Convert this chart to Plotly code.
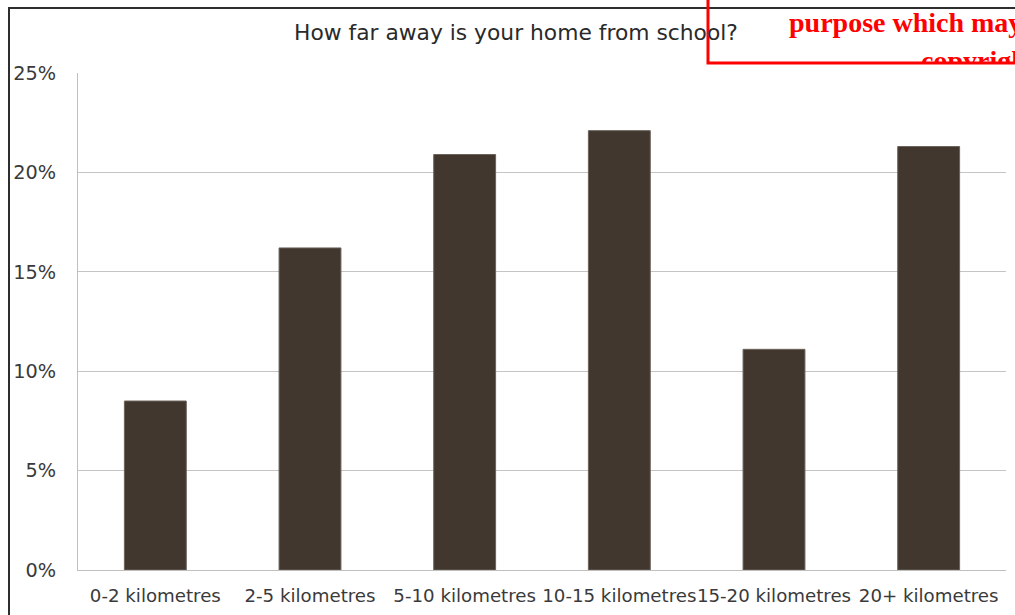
import plotly.graph_objects as go

categories = ["0-2 kilometres", "2-5 kilometres", "5-10 kilometres",
              "10-15 kilometres", "15-20 kilometres", "20+ kilometres"]
shares = [8.5, 16.2, 20.9, 22.1, 11.1, 21.3]
tick_vals = [0, 5, 10, 15, 20, 25]
tick_text = ["0%", "5%", "10%", "15%", "20%", "25%"]

W, H = 1015, 615
L, R, T, B = 78, 9, 73, 45
PW, PH = W - L - R, H - T - B

def px(x):
    return (x - L) / PW

def py(y):
    return (H - B - y) / PH

TXT = "#3a3a3a"
FONT = "DejaVu Sans, Open Sans, sans-serif"

fig = go.Figure(go.Bar(
    x=categories, y=shares,
    marker=dict(color="#41372e", line=dict(color="#6b625a", width=1)),
    width=0.4,
))

fig.update_layout(
    width=W, height=H,
    margin=dict(l=L, r=R, t=T, b=B, autoexpand=False),
    paper_bgcolor="white", plot_bgcolor="white",
    showlegend=False,
    font=dict(family=FONT, color=TXT, size=17),
    xaxis=dict(showgrid=False, showline=True, linecolor="#bfbfbf", linewidth=1,
               ticks="", tickangle=0, automargin=False, ticklabelstandoff=9,
               tickfont=dict(size=18.2, color=TXT)),
    yaxis=dict(range=[0, 25], tickvals=tick_vals, ticktext=tick_text,
               showgrid=True, gridcolor="#c4c4c4", gridwidth=1,
               showline=True, linecolor="#bfbfbf", linewidth=1, automargin=False,
               zeroline=False, ticks="", ticklen=0, ticklabelstandoff=17,
               tickfont=dict(size=19.3, color=TXT)),
    bargap=0.6,
)

fig.add_annotation(
    text="How far away is your home from school?",
    xref="paper", yref="paper", x=px(516), y=py(33),
    xanchor="center", yanchor="middle", showarrow=False,
    font=dict(size=21.8, color="#2a2a2a", family=FONT),
)

# outer chart frame
fig.add_shape(type="rect", xref="paper", yref="paper",
              x0=px(9), x1=px(1040), y0=py(640), y1=py(8),
              line=dict(color="#2e2e2e", width=2), layer="above")

# red overlay box
fig.add_shape(type="rect", xref="paper", yref="paper",
              x0=px(708), x1=px(1040), y0=py(63), y1=py(-10),
              line=dict(color="#ff0000", width=3), layer="above")

fig.add_annotation(
    text="<b>purpose which may</b>", xref="paper", yref="paper",
    x=px(787), y=py(22), xanchor="left", yanchor="middle", showarrow=False,
    font=dict(family="Liberation Serif, serif", size=28, color="#ff0000"),
)
fig.add_annotation(
    text="<b>copyright</b>", xref="paper", yref="paper",
    x=px(919), y=py(43), xanchor="left", yanchor="top", showarrow=False,
    height=18, valign="top",
    font=dict(family="Liberation Serif, serif", size=28, color="#ff0000"),
)

fig.write_html("out.html")
